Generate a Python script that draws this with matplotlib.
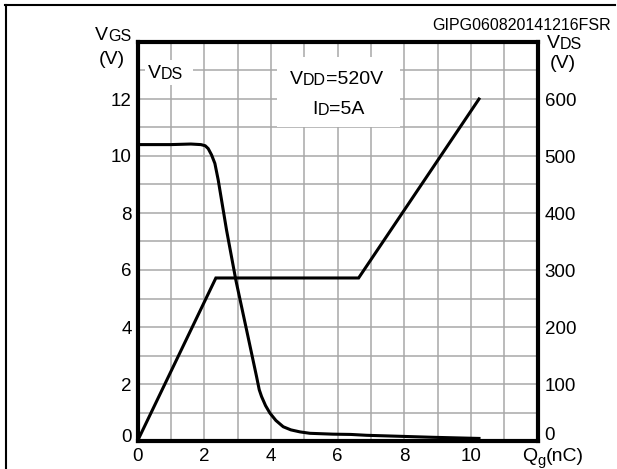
import matplotlib
matplotlib.use("Agg")
import matplotlib.pyplot as plt
import matplotlib.transforms as mtransforms
from matplotlib.patches import Rectangle
from matplotlib.lines import Line2D

plt.rcParams['font.family'] = ['Liberation Sans', 'DejaVu Sans']

# V_GS curve (left axis, V)
qg_vgs = [0, 2.35, 6.63, 10.24]
vgs = [0, 5.72, 5.72, 12.0]

# V_DS curve (right axis, V)
qg_vds = [0, 1.0, 1.6, 1.9, 2.03, 2.12, 2.22, 2.32, 2.42, 2.67, 2.95, 3.27, 3.57,
          3.65, 3.72, 3.84, 3.97, 4.15, 4.37, 4.6, 4.87, 5.17, 5.86, 6.4, 6.87,
          8.86, 10.24]
vds = [520, 520, 521, 520, 518, 513, 502, 487, 458, 370, 282, 195, 113,
       90, 78, 62, 49, 36, 25, 19.5, 16, 13.5, 12, 11.5, 10,
       6.5, 4.5]

x_ticks = [0, 2, 4, 6, 8, 10]
vgs_ticks = [0, 2, 4, 6, 8, 10, 12]
vds_ticks = [0, 100, 200, 300, 400, 500, 600]

W, H = 617, 469
fig = plt.figure(figsize=(W / 100, H / 100), dpi=100)


def px(x, y):
    # pixel position (from top-left) -> figure fraction
    return x / W, 1 - y / H


ax = fig.add_axes([137.5 / W, 28 / H, 400.2 / W, 399 / H])
ax.set_xlim(0, 12)
ax.set_ylim(0, 14)
ax.set_xticks(x_ticks)
ax.set_xticks(range(13), minor=True)
ax.set_yticks(vgs_ticks)
ax.set_yticks(range(15), minor=True)
ax.set_axisbelow(True)
ax.grid(which='both', color='#a8a8a8', linewidth=1.1)
ax.tick_params(which='both', length=0)
ax.tick_params(axis='y', labelsize=13.5, pad=4)
ax.tick_params(axis='x', labelsize=13.5, pad=5)
for s in ax.spines.values():
    s.set_linewidth(3)

ax2 = ax.twinx()
ax2.set_ylim(0, 700)
ax2.set_yticks(vds_ticks)
ax2.tick_params(length=0, labelsize=13.5, pad=5)
for s in ax2.spines.values():
    s.set_visible(False)

ax.plot(qg_vgs, vgs, color='black', linewidth=2.2, solid_joinstyle='miter', zorder=3)
ax2.plot(qg_vds, vds, color='black', linewidth=2.2, zorder=3)

# nudge the "0" labels up a little, as in the original
up = mtransforms.ScaledTranslation(0, 6 / 100, fig.dpi_scale_trans)
ax.get_yticklabels()[0].set_transform(ax.get_yticklabels()[0].get_transform() + up)
up2 = mtransforms.ScaledTranslation(0, 8 / 100, fig.dpi_scale_trans)
ax2.get_yticklabels()[0].set_transform(ax2.get_yticklabels()[0].get_transform() + up2)

# white boxes behind the in-plot notes (above the grid, below the text)
for (x0, y0, x1, y1) in [(145, 60, 193, 85), (277, 57, 400, 127)]:
    ax.add_patch(Rectangle(px(x0, y1), (x1 - x0) / W, (y1 - y0) / H,
                           transform=fig.transFigure, facecolor='white',
                           edgecolor='none', zorder=1))


def chained(x, y, parts, big=14, small=11.5):
    # text pieces on one baseline; second field picks full size or small caps size
    first, *rest = parts
    t = ax.annotate(first[0], xy=px(x, y), xycoords='figure fraction',
                    fontsize=big if first[1] else small,
                    ha='left', va='baseline', annotation_clip=False, zorder=4)
    prev = t
    for s, is_big, drop in rest:
        prev = ax.annotate(s, xy=(1, 0), xycoords=(prev, t),
                           xytext=(0, -drop), textcoords='offset points',
                           fontsize=big if is_big else small,
                           ha='left', va='bottom', annotation_clip=False,
                           zorder=4)
    return t


chained(95, 40, [('V', True), ('GS', False, 0)])
fig.text(*px(112, 59), '(V)', fontsize=14, ha='center', va='center')
chained(547, 48, [('V', True), ('DS', False, 0)])
fig.text(*px(563, 63.5), '(V)', fontsize=14, ha='center', va='center')
fig.text(*px(611, 30), 'GIPG060820141216FSR', fontsize=11.5, ha='right', va='baseline')

chained(148, 78, [('V', True), ('DS', False, 0)])
chained(290, 84, [('V', True), ('DD', False, 0), ('=520V', True, 0)])
chained(312, 114, [('I', True), ('D', False, 0), ('=5A', True, 0)])
chained(522, 461, [('Q', True), ('g', False, 2), ('(nC)', True, 0)], small=10.5)

# outer frame of the figure
fig.add_artist(Line2D([5 / W, 615 / W], [1 - 5 / H] * 2, color='black', linewidth=1.5,
                      transform=fig.transFigure))
fig.add_artist(Line2D([5.5 / W] * 2, [1 - 5 / H, 0], color='black', linewidth=1.5,
                      transform=fig.transFigure))

fig.savefig('out.png', dpi=100)
